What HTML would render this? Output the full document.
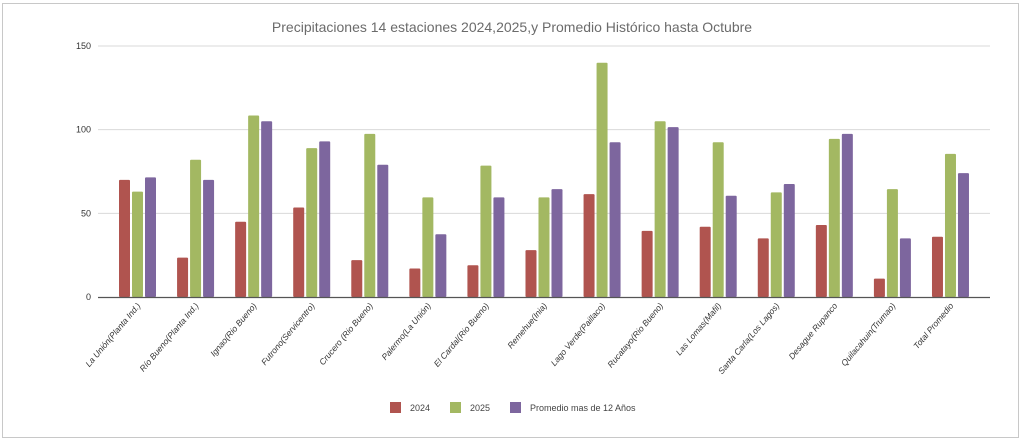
<!DOCTYPE html>
<html><head><meta charset="utf-8"><style>
html,body{margin:0;padding:0;background:#fff;width:1024px;height:443px;overflow:hidden}
svg{display:block;font-family:"Liberation Sans",sans-serif}
</style></head><body>
<svg id="chart" width="1024" height="443">
<rect x="2.5" y="3.5" width="1016" height="434" fill="#fff" stroke="#c8c8c8"/>
<text x="512" y="32" text-anchor="middle" font-size="14" fill="#6b6b6b">Precipitaciones  14 estaciones 2024,2025,y Promedio Histórico hasta Octubre</text>
<g id="grid"></g><g id="bars"></g><g id="xlabels"></g>
<line x1="98" y1="297.5" x2="990" y2="297.5" stroke="#555" stroke-width="1.2"/>
<g font-size="9" fill="#444">
<rect x="390" y="402" width="11" height="11" fill="#b0544f"/>
<text x="410" y="411">2024</text>
<rect x="450" y="402" width="11" height="11" fill="#a3b862"/>
<text x="470" y="411">2025</text>
<rect x="510" y="402" width="11" height="11" fill="#7d669e"/>
<text x="530" y="411">Promedio mas de 12 Años</text>
</g>
</svg>
<script>
const categories=["La Unión(Planta Ind.)","Río Bueno(Planta Ind.)","Ignao(Rio Bueno)","Futrono(Servicentro)","Crucero (Rio Bueno)","Palermo(La Unión)","El Cardal(Rio Bueno)","Remehue(Inia)","Lago Verde(Paillaco)","Rucatayo(Rio Bueno)","Las Lomas(Mafil)","Santa Carla(Los Lagos)","Desague Rupanco","Quilacahuin(Trumao)","Total Promedio"];
const values2024=[70,23.5,45,53.5,22,17,19,28,61.5,39.5,42,35,43,11,36];
const values2025=[63,82,108.5,89,97.5,59.5,78.5,59.5,140,105,92.5,62.5,94.5,64.5,85.5];
const valuesPromedio=[71.5,70,105,93,79,37.5,59.5,64.5,92.5,101.5,60.5,67.5,97.5,35,74];
const yTicks=[0,50,100,150];
const NS="http://www.w3.org/2000/svg";
const y=v=>297-v*251/150;
const xc=i=>137+i*58.07;
const grid=document.getElementById('grid'),bars=document.getElementById('bars'),xl=document.getElementById('xlabels');
yTicks.forEach(t=>{
  if(t>0){const l=document.createElementNS(NS,'line');
  l.setAttribute('x1',98);l.setAttribute('x2',990);l.setAttribute('y1',y(t));l.setAttribute('y2',y(t));
  l.setAttribute('stroke','#d9d9d9');l.setAttribute('stroke-width','1');
  
  
  grid.appendChild(l);}
  const tx=document.createElementNS(NS,'text');
  tx.setAttribute('x',91);tx.setAttribute('y',y(t)+3);tx.setAttribute('text-anchor','end');
  tx.setAttribute('font-size','9');tx.setAttribute('fill','#333');tx.textContent=t;
  
  
  grid.appendChild(tx);
});
const series=[[values2024,'#b0544f','2024'],[values2025,'#a3b862','2025'],[valuesPromedio,'#7d669e','promedio']];
categories.forEach((c,i)=>{
  series.forEach((s,k)=>{
    const v=s[0][i];const r=document.createElementNS(NS,'rect');
    r.setAttribute('x',xc(i)-18+k*13);r.setAttribute('width',11);
    r.setAttribute('y',y(v));r.setAttribute('height',297-y(v));
    r.setAttribute('rx',1);r.setAttribute('fill',s[1]);
    
    
    bars.appendChild(r);
  });
  const t=document.createElementNS(NS,'text');
  const lx=xc(i)+4,ly=306;
  t.setAttribute('x',lx);t.setAttribute('y',ly);t.setAttribute('text-anchor','end');
  t.setAttribute('transform','rotate(-50 '+lx+' '+ly+')');
  t.setAttribute('font-size','8.5');t.setAttribute('font-style','italic');t.setAttribute('fill','#333');
  t.textContent=c;
  
  
  xl.appendChild(t);
});
</script>
</body></html>
